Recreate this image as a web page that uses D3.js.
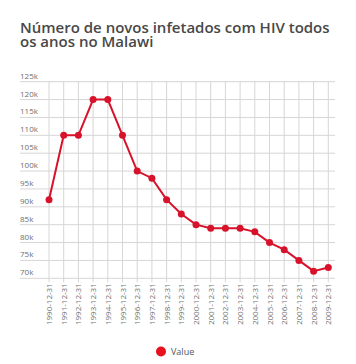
<!DOCTYPE html>
<html><head><meta charset="utf-8">
<script src="https://cdn.jsdelivr.net/npm/d3@7/dist/d3.min.js"></script>
<style>
body{margin:0;background:#fff;}
svg{display:block;font-family:"Open Sans",sans-serif;}
</style></head>
<body>
<svg id="c" width="356" height="364"></svg>
<script>
const categories = ["1990-12-31","1991-12-31","1992-12-31","1993-12-31","1994-12-31","1995-12-31","1996-12-31","1997-12-31","1998-12-31","1999-12-31","2000-12-31","2001-12-31","2002-12-31","2003-12-31","2004-12-31","2005-12-31","2006-12-31","2007-12-31","2008-12-31","2009-12-31"];
const values = [92000,110000,110000,120000,120000,110000,100000,98000,92000,88000,85000,84000,84000,84000,83000,80000,78000,75000,72000,73000];
const yTicks = [70000,75000,80000,85000,90000,95000,100000,105000,110000,115000,120000,125000];
const seriesName = "Value";
const titleLines = ["Número de novos infetados com HIV todos","os anos no Malawi"];

const svg = d3.select("#c");
const red = "#d7132b";

svg.append("g").selectAll("text").data(titleLines).join("text")
  .attr("x",20).attr("y",(d,i)=>33+i*14)
  .attr("font-size",15).attr("font-weight",600).attr("fill","#484848")
  .text(d=>d);

const x = d3.scalePoint().domain(categories).range([49,328.3]);
const y = d3.scaleLinear().domain([70000,125000]).range([278.3,81.7]);
const left = 20, right = 335;

// horizontal grid + labels
const yg = svg.append("g");
yg.selectAll("line").data(yTicks).join("line")
  .attr("x1",left).attr("x2",right)
  .attr("y1",d=>y(d)).attr("y2",d=>y(d))
  .attr("stroke","#d6d6d6").attr("stroke-width",1);
yg.selectAll("text").data(yTicks).join("text")
  .attr("x",left).attr("y",d=>y(d)-3)
  .attr("font-size",8).attr("fill","#6e6e6e")
  .text(d=>d3.format("~s")(d));

// vertical grid
svg.append("g").selectAll("line").data(categories).join("line")
  .attr("x1",d=>x(d)).attr("x2",d=>x(d))
  .attr("y1",y(125000)).attr("y2",y(70000)+4)
  .attr("stroke","#d6d6d6").attr("stroke-width",1);

// x labels
svg.append("g").selectAll("text").data(categories).join("text")
  .attr("transform",d=>`translate(${x(d)+3},${y(70000)+5}) rotate(-90)`)
  .attr("text-anchor","end").attr("font-size",8).attr("fill","#6e6e6e")
  .text(d=>d);

// line
const line = d3.line().x((d,i)=>x(categories[i])).y(d=>y(d));
svg.append("path").datum(values).attr("d",line)
  .attr("fill","none").attr("stroke",red).attr("stroke-width",2);
svg.append("g").selectAll("circle").data(values).join("circle")
  .attr("cx",(d,i)=>x(categories[i])).attr("cy",d=>y(d)).attr("r",3.5)
  .attr("fill",red);

// legend
svg.append("circle").attr("cx",161).attr("cy",351.5).attr("r",5).attr("fill","#e8101f");
svg.append("text").attr("x",171).attr("y",355).attr("font-size",9).attr("fill","#555").text(seriesName);
</script>
</body></html>
